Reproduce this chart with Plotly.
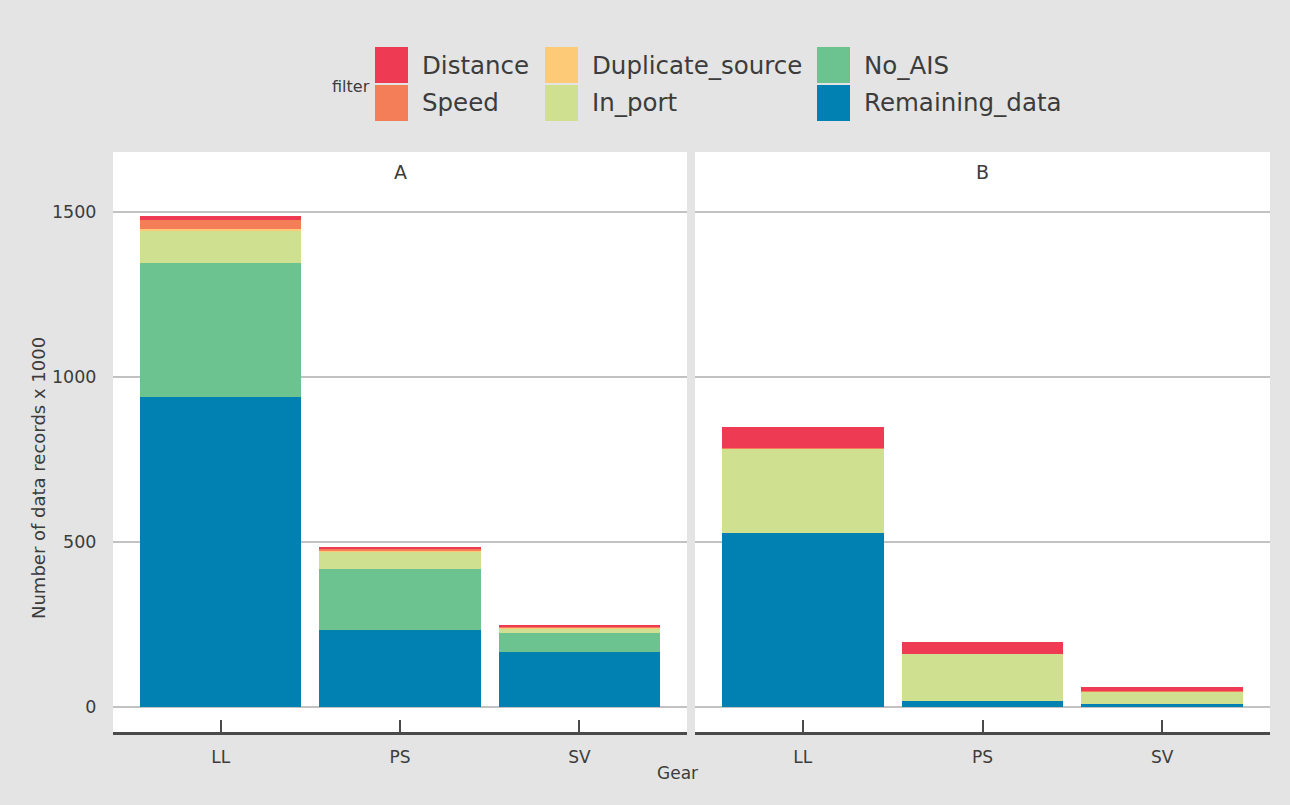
import plotly.graph_objects as go

# ---- data (records x 1000) ----
gears = ["LL", "PS", "SV"]
panels = ["A", "B"]
filters = ["Distance", "Speed", "Duplicate_source", "In_port", "No_AIS", "Remaining_data"]

remaining_a = [939, 233, 167]
no_ais_a = [406, 185, 57]
in_port_a = [100, 52, 15]
duplicate_a = [4, 2, 1]
speed_a = [27, 8, 5]
distance_a = [12, 5, 3]

remaining_b = [527, 18, 10]
no_ais_b = [0, 0, 0]
in_port_b = [255, 143, 37]
duplicate_b = [0, 0, 0]
speed_b = [3, 1, 2]
distance_b = [63, 35, 12]

y_ticks = [0, 500, 1000, 1500]

colors = {
    "Distance": "#EE3A52",
    "Speed": "#F37E57",
    "Duplicate_source": "#FDCB77",
    "In_port": "#CFE191",
    "No_AIS": "#6DC38F",
    "Remaining_data": "#0081B2",
}

series = {
    "A": {"Remaining_data": remaining_a, "No_AIS": no_ais_a, "In_port": in_port_a,
          "Duplicate_source": duplicate_a, "Speed": speed_a, "Distance": distance_a},
    "B": {"Remaining_data": remaining_b, "No_AIS": no_ais_b, "In_port": in_port_b,
          "Duplicate_source": duplicate_b, "Speed": speed_b, "Distance": distance_b},
}

W, H = 1290, 805
FONT = "DejaVu Sans"
TXT = "#3c3c3c"


def px(x):
    return x / W


def py(y):
    return 1 - y / H


fig = go.Figure()

stack_order = ["Remaining_data", "No_AIS", "In_port", "Duplicate_source", "Speed", "Distance"]
for i, panel in enumerate(panels):
    xa = "x" if i == 0 else "x2"
    ya = "y" if i == 0 else "y2"
    for f in stack_order:
        fig.add_trace(go.Bar(
            x=gears, y=series[panel][f], name=f, xaxis=xa, yaxis=ya,
            marker=dict(color=colors[f], line=dict(width=0)),
            width=0.9, showlegend=False,
        ))

# panel geometry (pixels)
top_px, bottom_px = 152, 732
a_left, a_right = 113, 687
b_left, b_right = 695, 1270
y_zero_px, y_1500_px = 707, 212
k = (y_zero_px - y_1500_px) / 1500.0
y_lo = -(bottom_px - y_zero_px) / k
y_hi = (y_zero_px - top_px) / k

xcommon = dict(
    type="category", range=[-0.6, 2.6], showgrid=False, zeroline=False,
    showline=True, linecolor="#4a4a4a", linewidth=3, mirror=False,
    ticks="inside", ticklen=12, tickwidth=2, tickcolor="#4a4a4a",
    tickfont=dict(family=FONT, size=17, color=TXT), automargin=False,
    ticklabelstandoff=8,
)
ycommon = dict(
    range=[y_lo, y_hi], tickvals=y_ticks, showgrid=True, gridcolor="#c2c2c2",
    gridwidth=2.2, zeroline=False, showline=False, ticks="outside", ticklen=12,
    tickcolor="rgba(0,0,0,0)", tickfont=dict(family=FONT, size=17.5, color=TXT),
    automargin=False,
)

fig.update_layout(
    width=W, height=H,
    margin=dict(l=0, r=0, t=0, b=0),
    paper_bgcolor="#E4E4E4", plot_bgcolor="#FFFFFF",
    barmode="stack", bargap=0.1,
    showlegend=False,
    xaxis=dict(xcommon, domain=[px(a_left), px(a_right)], anchor="y"),
    xaxis2=dict(xcommon, domain=[px(b_left), px(b_right)], anchor="y2"),
    yaxis=dict(ycommon, domain=[py(bottom_px), py(top_px)], anchor="x"),
    yaxis2=dict(ycommon, domain=[py(bottom_px), py(top_px)], anchor="x2",
                matches="y", showticklabels=False),
    font=dict(family=FONT, color=TXT),
)

annotations = []
# strip labels
for label, (l, r) in zip(panels, [(a_left, a_right), (b_left, b_right)]):
    annotations.append(dict(text=label, x=px((l + r) / 2), y=py(172), xref="paper", yref="paper",
                            showarrow=False, font=dict(family=FONT, size=19, color=TXT),
                            xanchor="center", yanchor="middle"))
# axis titles
annotations.append(dict(text="Gear", x=px(677), y=py(773), xref="paper", yref="paper",
                        showarrow=False, font=dict(family=FONT, size=17, color=TXT),
                        xanchor="center", yanchor="middle"))
annotations.append(dict(text="Number of data records x 1000", x=px(38), y=py(478),
                        xref="paper", yref="paper", textangle=-90, showarrow=False,
                        font=dict(family=FONT, size=18, color=TXT),
                        xanchor="center", yanchor="middle"))

# legend drawn as swatches + labels, column-major like the original key
shapes = []
annotations.append(dict(text="filter", x=px(330), y=py(86), xref="paper", yref="paper",
                        showarrow=False, font=dict(family=FONT, size=16, color=TXT),
                        xanchor="left", yanchor="middle"))
legend_cols = [(375, ["Distance", "Speed"]), (545, ["Duplicate_source", "In_port"]),
               (817, ["No_AIS", "Remaining_data"])]
row_tops = [47, 85]
sw_w, sw_h = 33, 36
for x0, names in legend_cols:
    for r, name in enumerate(names):
        y0 = row_tops[r]
        shapes.append(dict(type="rect", xref="paper", yref="paper",
                           x0=px(x0), x1=px(x0 + sw_w), y0=py(y0 + sw_h), y1=py(y0),
                           fillcolor=colors[name], line=dict(width=0), layer="above"))
        annotations.append(dict(text=name, x=px(x0 + sw_w + 12), y=py(y0 + sw_h / 2),
                                xref="paper", yref="paper", showarrow=False,
                                font=dict(family=FONT, size=24.5, color=TXT),
                                xanchor="left", yanchor="middle"))

fig.update_layout(annotations=annotations, shapes=shapes)

fig.write_html("out.html")
